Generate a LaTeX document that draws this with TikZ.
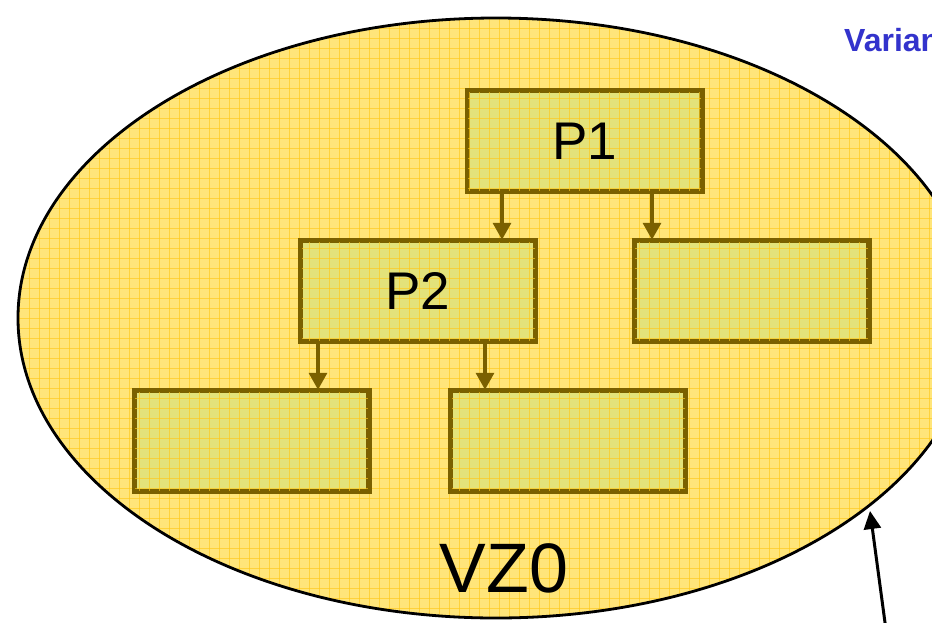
\documentclass[tikz,border=0pt]{standalone}
\usepackage{fontspec}
\setmainfont{Liberation Sans}
\usetikzlibrary{arrows.meta}
\definecolor{zonefill}{HTML}{FFE57A}
\definecolor{gridcol}{HTML}{FFC91A}
\definecolor{boxfill}{HTML}{E3E27A}
\definecolor{boxline}{HTML}{7A6000}
\definecolor{titleblue}{HTML}{3333CC}
\tikzset{
  procbox/.style={draw=boxline, line width=3.5pt, fill=boxfill, minimum width=233pt, minimum height=99pt, inner sep=0pt},
  boxtext/.style={font=\fontsize{53}{53}\selectfont},
  flow/.style={draw=boxline, line width=3.4pt, -{Triangle[length=17pt,width=18pt]}},
}
\begin{document}
\begin{tikzpicture}[x=1pt,y=-1pt]
\useasboundingbox (0,0) rectangle (932,622);
% zone ellipse
\fill[zonefill] (496,318) ellipse[x radius=478, y radius=300];
% boxes
\node[procbox] (p1) at (584.5,141) {};
\node[procbox] (r1) at (751.5,291) {};
\node[procbox] (p2) at (418,291) {};
\node[procbox] (b1) at (251.5,441) {};
\node[procbox] (b2) at (568,441) {};
% grid overlay
\begin{scope}
\clip (496,318) ellipse[x radius=478, y radius=300];
\foreach \gx in {9,19,...,979}{
  \draw[gridcol, line width=1pt, opacity=0.65] (\gx,0) -- (\gx,630);
}
\foreach \gy in {8,18,...,628}{
  \draw[gridcol, line width=1pt, opacity=0.65] (0,\gy) -- (980,\gy);
}
\end{scope}
% box borders again on top of grid
\foreach \n in {p1,r1,p2,b1,b2}{
  \draw[boxline, line width=3.5pt] (\n.north west) rectangle (\n.south east);
}
\node[boxtext] at (p1.center) {P1};
\node[boxtext] at (p2.center) {P2};
% ellipse outline
\draw[black, line width=2.8pt] (496,318) ellipse[x radius=478, y radius=300];
% connectors
\draw[flow] (p1.south -| 502,0) -- (p2.north -| 502,0);
\draw[flow] (p1.south -| 652,0) -- (r1.north -| 652,0);
\draw[flow] (p2.south -| 318,0) -- (b1.north -| 318,0);
\draw[flow] (p2.south -| 485,0) -- (b2.north -| 485,0);
% label
\node[font=\fontsize{70}{70}\selectfont] (vz) at (504,568) {VZ0};
\node[anchor=base west, font=\bfseries\fontsize{32}{32}\selectfont, text=titleblue, inner sep=0pt] (var) at (844,51) {Varian};
% pointer arrow
\coordinate (tail) at (886,630);
\coordinate (tip) at (870,511);
\draw[black, line width=3pt, -{Triangle[length=18pt,width=17pt]}] (tail) -- (tip);
\end{tikzpicture}
\end{document}
